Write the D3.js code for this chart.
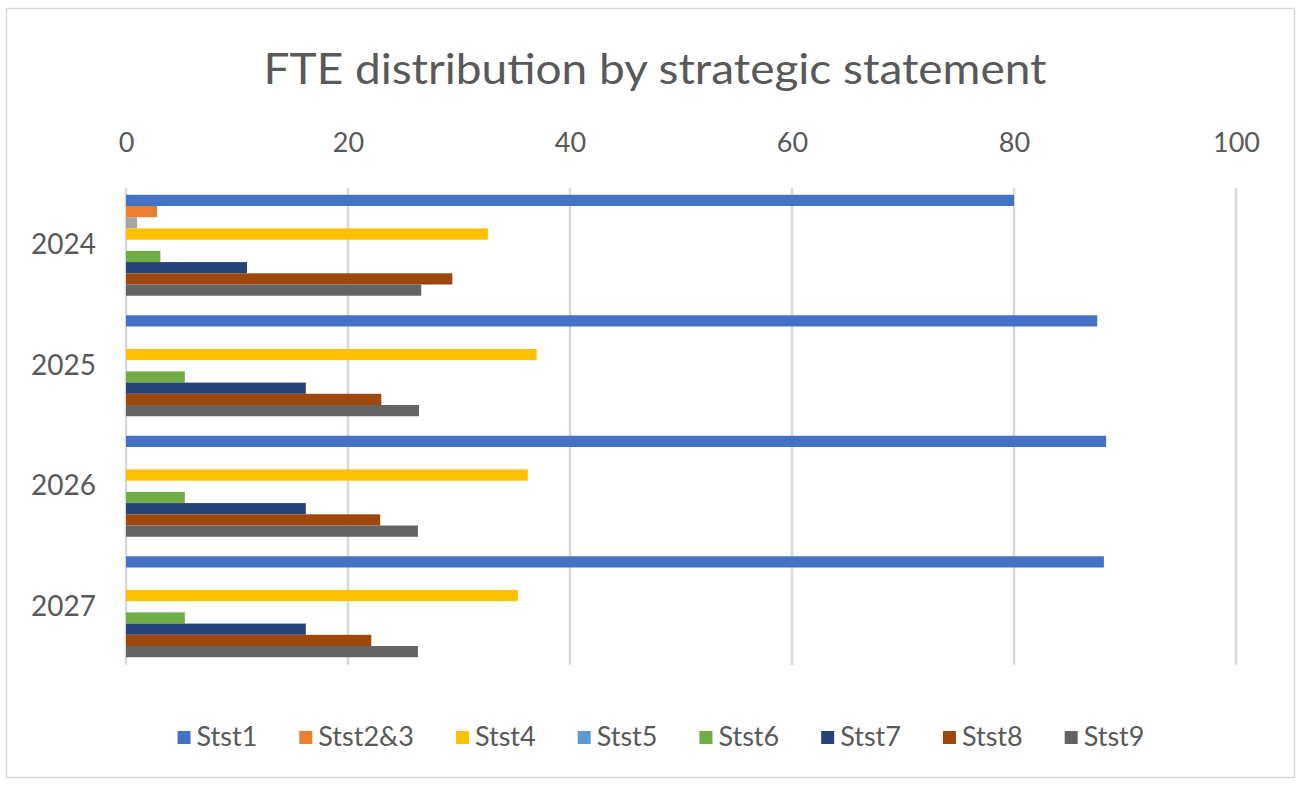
<!DOCTYPE html>
<html>
<head>
<meta charset="utf-8">
<script src="https://cdn.jsdelivr.net/npm/d3@7"></script>
<style>
  body { margin: 0; background: #fff; }
  svg text { font-family: Lato, "Open Sans", sans-serif; fill: #595959; }
</style>
</head>
<body>
<div id="graph"></div>
<script>
// data
var years = ["2024", "2025", "2026", "2027"];
var seriesNames = ["Stst1", "Stst2&3", "Stst3", "Stst4", "Stst5", "Stst6", "Stst7", "Stst8", "Stst9"];
var inLegend = [true, true, false, true, true, true, true, true, true];
var seriesColors = ["#4472C4", "#ED7D31", "#A5A5A5", "#FFC000", "#5B9BD5", "#70AD47", "#264478", "#9E480E", "#636363"];
var stst1 = [80.0, 87.5, 88.3, 88.1];
var stst2and3 = [2.8, 0, 0, 0];
var stst3 = [1.0, 0, 0, 0];
var stst4 = [32.6, 37.0, 36.2, 35.3];
var stst5 = [0, 0, 0, 0];
var stst6 = [3.1, 5.3, 5.3, 5.3];
var stst7 = [10.9, 16.2, 16.2, 16.2];
var stst8 = [29.4, 23.0, 22.9, 22.1];
var stst9 = [26.6, 26.4, 26.3, 26.3];
var xTicks = [0, 20, 40, 60, 80, 100];

var seriesValues = [stst1, stst2and3, stst3, stst4, stst5, stst6, stst7, stst8, stst9];

// measurements
var width = 1301;
var height = 785;
var margin = { top: 185, right: 65, bottom: 118, left: 126 };
var chartWidth = width - margin.left - margin.right;
var chartHeight = height - margin.top - margin.bottom;

var chart = d3.select("#graph").append("svg")
    .attr("width", width)
    .attr("height", height);

// outer border
chart.append("rect")
    .attr("x", 6.5).attr("y", 8.5)
    .attr("width", 1288).attr("height", 769)
    .attr("fill", "#fff")
    .attr("stroke", "#d9d9d9")
    .attr("stroke-width", 1.5);

// title
chart.append("text")
    .attr("x", 655)
    .attr("y", 84)
    .attr("text-anchor", "middle")
    .attr("textLength", 783)
    .attr("lengthAdjust", "spacingAndGlyphs")
    .style("font-size", "43px")
    .text("FTE distribution by strategic statement");

var plot = chart.append("g")
    .attr("transform", "translate(" + margin.left + "," + margin.top + ")");

var xScale = d3.scaleLinear().domain([0, 100]).range([0, 1110]);
var yScale = d3.scaleBand().domain(years).range([0, chartHeight]).paddingInner(0.162).paddingOuter(0.081);
var inner = d3.scaleBand().domain(d3.range(seriesNames.length)).range([0, yScale.bandwidth()]);

// gridlines
plot.selectAll(".grid")
    .data(xTicks)
    .enter().append("line")
    .attr("class", "grid")
    .attr("x1", function (d) { return xScale(d); })
    .attr("x2", function (d) { return xScale(d); })
    .attr("y1", 3)
    .attr("y2", chartHeight - 2)
    .attr("stroke", "#d9d9d9")
    .attr("stroke-width", 2.5);

// top axis
var xAxis = d3.axisTop(xScale).tickValues(xTicks).tickSize(0).tickPadding(33);
var xAxisG = plot.append("g").call(xAxis);
xAxisG.select(".domain").remove();
xAxisG.selectAll("text").style("font-size", "27px").attr("fill", "#595959");

// left axis
var yAxis = d3.axisLeft(yScale).tickSize(0).tickPadding(30);
var yAxisG = plot.append("g").call(yAxis);
yAxisG.select(".domain").remove();
yAxisG.selectAll("text").style("font-size", "28px").attr("fill", "#595959");

// bars
var groups = plot.selectAll(".year")
    .data(years)
    .enter().append("g")
    .attr("class", "year")
    .attr("transform", function (d) { return "translate(0," + yScale(d) + ")"; });

groups.selectAll("rect")
    .data(function (d, i) {
        return seriesValues.map(function (vals, s) { return { s: s, v: vals[i] }; });
    })
    .enter().append("rect")
    .attr("x", xScale(0))
    .attr("y", function (d) { return inner(d.s); })
    .attr("width", function (d) { return xScale(d.v) - xScale(0); })
    .attr("height", inner.bandwidth())
    .attr("fill", function (d) { return seriesColors[d.s]; });

// legend
var legendItems = seriesNames.map(function (n, i) { return { name: n, color: seriesColors[i] }; })
    .filter(function (d, i) { return inLegend[i]; });

var legend = chart.append("g").attr("transform", "translate(0,737)");
var items = legend.selectAll(".item")
    .data(legendItems)
    .enter().append("g")
    .attr("class", "item");
items.append("rect")
    .attr("x", 0).attr("y", -6)
    .attr("width", 13).attr("height", 13)
    .attr("fill", function (d) { return d.color; });
items.append("text")
    .attr("x", 19)
    .attr("y", 0)
    .attr("dy", "0.35em")
    .style("font-size", "27px")
    .text(function (d) { return d.name; });

var gap = 42;
var offs = [];
var total = 0;
items.each(function () {
    var w = this.getBBox().width;
    offs.push(total);
    total += w + gap;
});
total -= gap;
var startX = 661 - total / 2;
items.attr("transform", function (d, i) { return "translate(" + (startX + offs[i]) + ",0)"; });
</script>
</body>
</html>
